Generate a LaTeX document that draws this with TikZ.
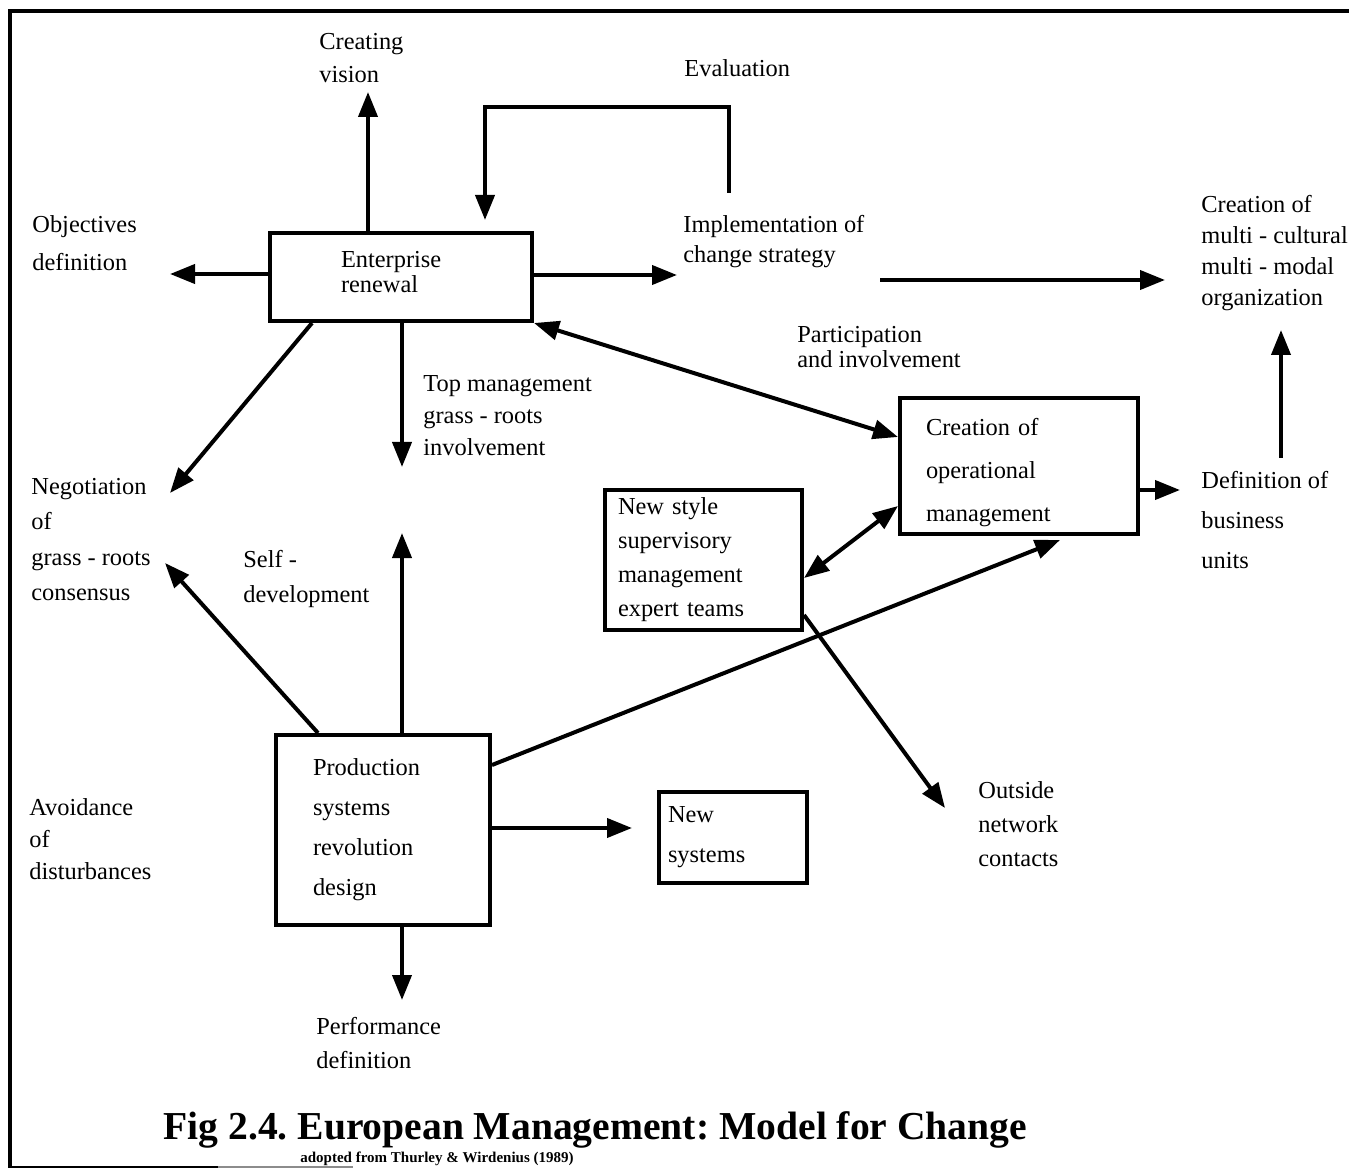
\documentclass[tikz,border=0pt]{standalone}
\usepackage{fontspec}
\setmainfont{Liberation Serif}
\usepackage{tikz}
\usetikzlibrary{arrows.meta}

\tikzset{
	lbl/.style={inner sep=0pt, anchor=north west, align=left, font=\fontsize{12.2}{#1}\selectfont},
	box/.style={draw, line width=2pt, inner ysep=0pt, align=left, font=\fontsize{12.2}{#1}\selectfont},
	flow/.style={line width=2pt, -{Triangle[length=12.5pt,width=9.5pt]}},
	twoway/.style={line width=2pt, {Triangle[length=12.5pt,width=9.5pt]}-{Triangle[length=12.5pt,width=9.5pt]}}
}

\begin{document}
\begin{tikzpicture}[x=0.5pt,y=-0.5pt]
			\useasboundingbox (0,0) rectangle (1349,1171);
			\draw[line width=2pt] (8,11) -- (1349,11);
			\draw[line width=2pt] (10,11) -- (10,1168);
			\draw[line width=1pt] (10,1167) -- (218,1167);
			\draw[black!45,line width=1pt] (218,1167) -- (353,1167);
			% boxes
			\node[box=12.5pt, text width=60pt, inner xsep=35.5pt, minimum height=44pt] (ent) at (401,277) {Enterprise\\renewal\rule[-5pt]{0pt}{0pt}};
			\node[box=21.5pt, text width=93pt, inner xsep=13pt, minimum height=68pt] (cop) at (1019,466) {\rule{0pt}{15pt}Creation of\\operational\\management};
			\node[box=17pt, text width=85.5pt, inner xsep=6.5pt, minimum height=70pt] (nst) at (703.5,560) {New style\\supervisory\\management\\expert teams};
			\node[box=20pt, text width=70pt, inner xsep=18.5pt, minimum height=95pt] (prod) at (383,830) {Production\\systems\\revolution\\design};
			\node[box=20pt, text width=65pt, inner xsep=4.5pt, minimum height=45.5pt] (nsys) at (733,837.5) {New\\systems};
			% labels
			\node[lbl=16.5pt] (vis) at (319,33) {Creating\\vision};
			\node[lbl=15pt] (eva) at (684,59) {Evaluation};
			\node[lbl=19pt] (obj) at (32,215) {Objectives\\definition};
			\node[lbl=15pt] (imp) at (683,215) {Implementation of\\change strategy};
			\node[lbl=15.5pt] (org) at (1201,195) {Creation of\\multi - cultural\\multi - modal\\organization};
			\node[lbl=12.5pt] (par) at (797,326) {Participation\\and involvement};
			\node[lbl=16pt] (top) at (423,375) {Top management\\grass - roots\\involvement};
			\node[lbl=17.7pt] (neg) at (31,478) {Negotiation\\of\\grass - roots\\consensus};
			\node[lbl=17.5pt] (self) at (243,550) {Self -\\development};
			\node[lbl=20pt] (def) at (1201,471) {Definition of\\business\\units};
			\node[lbl=16pt] (avo) at (29,798) {Avoidance\\of\\disturbances};
			\node[lbl=17pt] (out) at (978,781) {Outside\\network\\contacts};
			\node[lbl=17pt] (perf) at (316,1017) {Performance\\definition};
			\node[inner sep=0pt, anchor=base west, font=\fontsize{19.8}{24}\selectfont\bfseries\frenchspacing] (cap) at (163,1139) {Fig 2.4. European Management: Model for Change};
			\node[inner sep=0pt, anchor=base west, font=\fontsize{7.5}{8}\selectfont\bfseries] (src) at (300,1162) {adopted from Thurley \& Wirdenius (1989)};
			% arrow ends
			\coordinate (cVis) at (368,92);
			\coordinate (cObj) at (170,274);
			\coordinate (cImp) at (677,275);
			\coordinate (cFbA) at (729,193);
			\coordinate (cFbB) at (729,107);
			\coordinate (cFbC) at (485,107);
			\coordinate (cFbD) at (485,220);
			\coordinate (cStrA) at (880,280);
			\coordinate (cStrB) at (1165,280);
			\coordinate (cPar) at (900,437);
			\coordinate (cTop) at (402,467);
			\coordinate (cNegS) at (312,321);
			\coordinate (cNeg) at (170,493);
			\coordinate (cDefA) at (1281,458);
			\coordinate (cDefB) at (1281,330);
			\coordinate (cBus) at (1180,490);
			\coordinate (cCopL) at (900,506);
			\coordinate (cNstR) at (802,578);
			\coordinate (cProdR) at (490,765);
			\coordinate (cOpB) at (1060,540);
			\coordinate (cNstB) at (802,615);
			\coordinate (cOut) at (945,808);
			\coordinate (cSelf) at (402,533);
			\coordinate (cProdL) at (318,735);
			\coordinate (cNeg2) at (165,563);
			\coordinate (cNew) at (632,828);
			\coordinate (cPerf) at (402,1000);
			% arrows
			\draw[flow] (ent.north -| cVis) -- (cVis);
			\draw[flow] (ent.west |- cObj) -- (cObj);
			\draw[flow] (ent.east |- cImp) -- (cImp);
			\draw[flow] (cFbA) -- (cFbB) -- (cFbC) -- (cFbD);
			\draw[flow] (cStrA) -- (cStrB);
			\draw[twoway] (ent.south east) -- (cop.west |- cPar);
			\draw[flow] (ent.south -| cTop) -- (cTop);
			\draw[flow] (ent.south -| cNegS) -- (cNeg);
			\draw[flow] (cDefA) -- (cDefB);
			\draw[flow] (cop.east |- cBus) -- (cBus);
			\draw[twoway] (cop.west |- cCopL) -- (nst.east |- cNstR);
			\draw[flow] (prod.east |- cProdR) -- (cOpB);
			\draw[flow] (nst.east |- cNstB) -- (cOut);
			\draw[flow] (prod.north -| cSelf) -- (cSelf);
			\draw[flow] (prod.north -| cProdL) -- (cNeg2);
			\draw[flow] (prod.east |- cNew) -- (cNew);
			\draw[flow] (prod.south -| cPerf) -- (cPerf);
\end{tikzpicture}
\end{document}
